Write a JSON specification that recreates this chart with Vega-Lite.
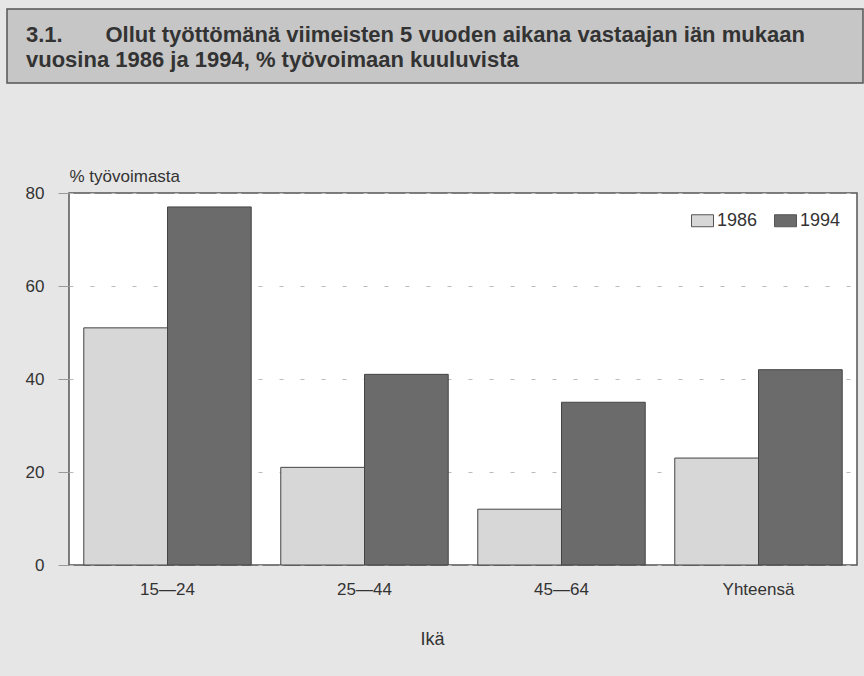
{
  "$schema": "https://vega.github.io/schema/vega-lite/v6.json",
  "background": "#e6e6e6",
  "padding": {"left": 6, "top": 8, "right": 2, "bottom": 31},
  "bounds": "flush",
  "spacing": 110,
  "resolve": {"scale": {"color": "independent"}, "legend": {"color": "independent"}},
  "config": {
    "font": "Liberation Sans",
    "axis": {"labelColor": "#333333", "titleColor": "#333333"},
    "legend": {"labelColor": "#333333"}
  },
  "vconcat": [
    {
      "width": 856,
      "height": 74,
      "view": {"fill": "#c6c6c6", "stroke": "#555555", "strokeWidth": 1.5},
      "data": {
        "values": [
          {"line": 1, "text": "3.1.\u00a0\u00a0\u00a0\u00a0\u00a0\u00a0\u00a0Ollut työttömänä viimeisten 5 vuoden aikana vastaajan iän mukaan"},
          {"line": 2, "text": "vuosina 1986 ja 1994, % työvoimaan kuuluvista"}
        ]
      },
      "mark": {
        "type": "text",
        "align": "left",
        "baseline": "alphabetic",
        "dx": 19,
        "font": "Liberation Sans",
        "fontWeight": "bold",
        "fontSize": 22,
        "color": "#333333"
      },
      "encoding": {
        "x": {"datum": 0, "type": "quantitative", "scale": {"domain": [0, 1]}, "axis": null},
        "y": {"field": "line", "type": "ordinal", "axis": null, "scale": {"type": "point", "range": [33, 58], "padding": 0}},
        "text": {"field": "text"}
      }
    },
    {
      "bounds": "flush",
      "spacing": 0,
      "resolve": {"scale": {"color": "independent"}, "legend": {"color": "independent"}},
      "hconcat": [
        {
          "width": 62,
          "height": 372,
          "view": {"fill": null, "stroke": null},
          "data": {"values": [{"t": ""}]},
          "mark": {"type": "text", "opacity": 0},
          "encoding": {"text": {"field": "t"}}
        },
        {
          "width": 788,
          "height": 372,
          "view": {"fill": "#ffffff", "stroke": "#555555", "strokeWidth": 1.5},
          "data": {
            "values": [
              {"age": "15—24", "year": "1986", "value": 51},
              {"age": "15—24", "year": "1994", "value": 77},
              {"age": "25—44", "year": "1986", "value": 21},
              {"age": "25—44", "year": "1994", "value": 41},
              {"age": "45—64", "year": "1986", "value": 12},
              {"age": "45—64", "year": "1994", "value": 35},
              {"age": "Yhteensä", "year": "1986", "value": 23},
              {"age": "Yhteensä", "year": "1994", "value": 42}
            ]
          },
          "mark": {"type": "bar", "stroke": "#444444", "strokeWidth": 1},
          "encoding": {
            "x": {
              "field": "age",
              "type": "nominal",
              "sort": ["15—24", "25—44", "45—64", "Yhteensä"],
              "scale": {"paddingInner": 0.15, "paddingOuter": 0.075},
              "axis": {
                "labelAngle": 0,
                "ticks": false,
                "domain": false,
                "labelFontSize": 17,
                "labelPadding": 16,
                "title": "Ikä",
                "titleFontSize": 18,
                "titleFontWeight": "normal",
                "titleX": 363,
                "titleY": 79,
                "titleAlign": "center",
                "titleBaseline": "alphabetic"
              }
            },
            "xOffset": {"field": "year", "type": "nominal", "sort": ["1986", "1994"]},
            "y": {
              "field": "value",
              "type": "quantitative",
              "scale": {"domain": [0, 80]},
              "axis": {
                "values": [0, 20, 40, 60, 80],
                "tickSize": 11,
                "tickColor": "#999999",
                "labelPadding": 14,
                "labelFontSize": 17,
                "grid": true,
                "gridDash": [4, 17],
                "gridColor": "#bbbbbb",
                "domain": false,
                "title": "% työvoimasta",
                "titleAngle": 0,
                "titleAlign": "left",
                "titleBaseline": "alphabetic",
                "titleX": 0,
                "titleY": -12,
                "titleFontSize": 17,
                "titleFontWeight": "normal"
              }
            },
            "color": {
              "field": "year",
              "type": "nominal",
              "scale": {"domain": ["1986", "1994"], "range": ["#d7d7d7", "#6b6b6b"]},
              "legend": {
                "title": null,
                "orient": "top-right",
                "direction": "horizontal",
                "offset": 16,
                "padding": 0,
                "symbolType": "M-1,-0.545L1,-0.545L1,0.545L-1,0.545Z",
                "symbolSize": 484,
                "symbolStrokeColor": "#555555",
                "symbolStrokeWidth": 1,
                "labelFontSize": 18,
                "labelOffset": 3,
                "columnPadding": 14
              }
            }
          }
        }
      ]
    }
  ]
}
